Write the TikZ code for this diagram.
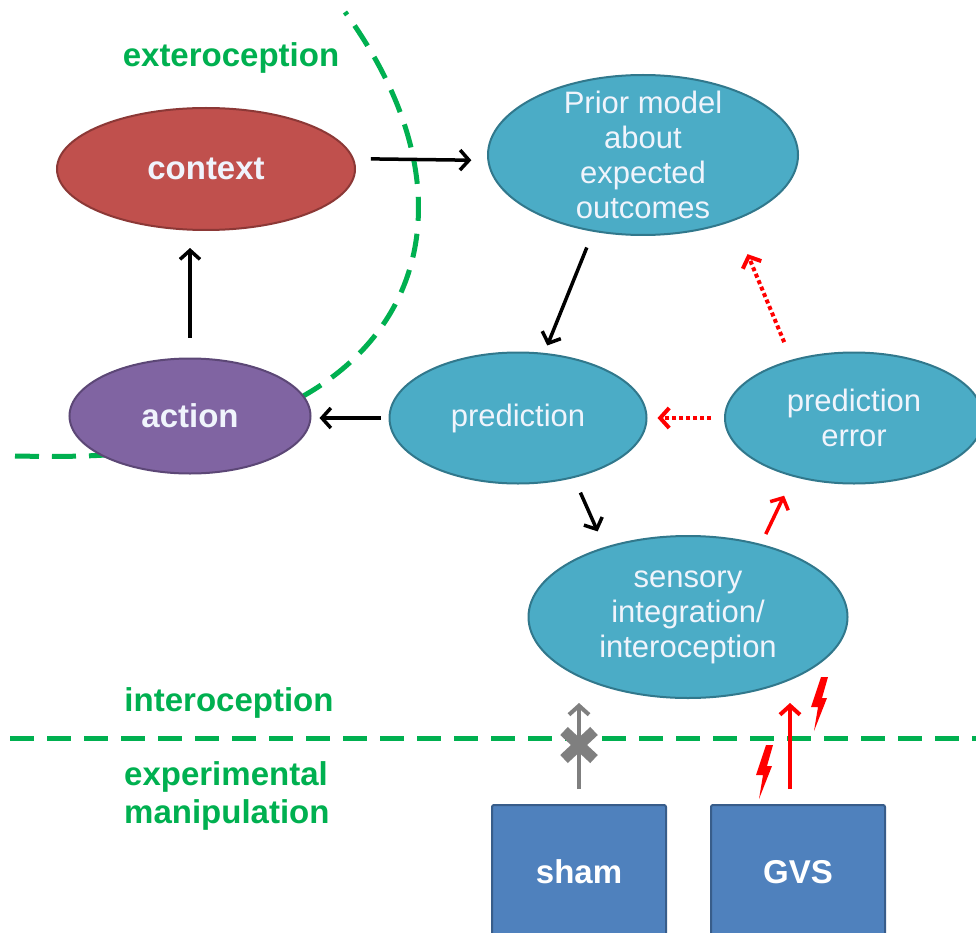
\documentclass[tikz,border=0pt]{standalone}
\usepackage{fontspec}
\setmainfont{Liberation Sans}
\usetikzlibrary{arrows.meta}
\usetikzlibrary{shapes.geometric}

\definecolor{tealfill}{RGB}{75,172,198}
\definecolor{tealedge}{RGB}{49,120,140}
\definecolor{ctxfill}{RGB}{192,80,77}
\definecolor{ctxedge}{RGB}{140,56,54}
\definecolor{actfill}{RGB}{128,100,162}
\definecolor{actedge}{RGB}{92,71,118}
\definecolor{boxfill}{RGB}{79,129,189}
\definecolor{boxedge}{RGB}{56,93,138}
\definecolor{zonegreen}{RGB}{0,176,80}
\definecolor{paletext}{RGB}{240,244,252}
\definecolor{midgray}{RGB}{127,127,127}

\begin{document}
\begin{tikzpicture}[x=1pt, y=-1pt]
    \tikzstyle{blob} = [ellipse, draw=tealedge, fill=tealfill, line width=2pt, inner sep=0pt, align=center, text=paletext, font=\fontsize{31}{35}\selectfont];
    \tikzstyle{keyblob} = [blob, font=\fontsize{33}{38}\selectfont\bfseries];
    \tikzstyle{block} = [rectangle, draw=boxedge, fill=boxfill, line width=2pt, rounded corners=2pt, minimum width=174pt, minimum height=134pt, text=white, font=\fontsize{33}{38}\selectfont\bfseries];
    \tikzstyle{zone} = [text=zonegreen, align=left, inner sep=0pt, font=\fontsize{33}{38}\selectfont\bfseries];
    \tikzstyle{border} = [draw=zonegreen, line width=5pt, dash pattern=on 24pt off 13pt];
    \tikzstyle{line} = [draw, line width=3.5pt, -{Straight Barb[length=9pt, width=20pt]}];
    \tikzstyle{error} = [line, draw=red, line width=4pt, dash pattern=on 4pt off 3pt];

    \useasboundingbox (0,0) rectangle (976,933);
    \fill[white] (0,0) rectangle (976,933);

    % outside world boundary, runs behind the action node
    \path[border] (15,456) .. controls (120,458) and (205,455) .. (305,395)
                          .. controls (435,320) and (460,170) .. (345,12);
    \path[border] (10,738) -- (976,738);

    \node[zone] (extero) at (231,58) {exteroception};
    \node[zone] (intero) at (229,703) {interoception};
    \node[zone, anchor=west] (manip) at (124,796) {experimental\\manipulation};

    \node[keyblob, draw=ctxedge, fill=ctxfill, minimum width=298pt, minimum height=122pt] (context) at (206,169) {context};
    \node[keyblob, draw=actedge, fill=actfill, minimum width=241pt, minimum height=115pt] (action) at (190,416) {action};
    \node[blob, minimum width=310pt, minimum height=160pt, inner ysep=-16pt] (prior) at (643,155) {Prior model\\about\\expected\\outcomes};
    \node[blob, minimum width=257pt, minimum height=131pt] (pred) at (518,418) {prediction};
    \node[blob, minimum width=258pt, minimum height=131pt] (perror) at (854,418) {prediction\\error};
    \node[blob, minimum width=319pt, minimum height=162pt] (sensory) at (688,617) {sensory\\integration/\\interoception};

    \node[block] (sham) at (579,872) {sham};
    \node[block] (gvs) at (798,872) {GVS};

    \path[line, shorten <=17pt, shorten >=16pt] (context.4) -- (prior.182);
    \path[line, shorten <=20pt, shorten >=17pt] (action.north) -- (action.north |- context.south);
    \path[line, shorten <=8pt, shorten >=8pt] (pred.west) -- (pred.west -| action.east);
    \path[line, shorten <=17pt, shorten >=8pt] (prior.237) -- (pred.68);
    \path[line, shorten <=16pt, shorten >=17pt] (pred.313) -- (sensory.140);
    \path[line, draw=red, shorten <=11pt, shorten >=21pt] (sensory.45) -- (perror.224);
    \path[error, shorten <=19pt, shorten >=36pt] (perror.137) -- (prior.324);
    \path[error, shorten <=13pt, shorten >=10pt] (perror.west) -- (pred.east);

    \coordinate (shamin) at (579,703);
    \coordinate (gvsin) at (790,703);
    \coordinate (cut) at (579,745);
    \path[line, draw=midgray, line width=4pt, shorten <=15pt] (sham.north) -- (shamin);
    \path[line, draw=red, line width=4pt, shorten <=15pt] ([xshift=-8pt]gvs.north) -- (gvsin);
    \draw[midgray, line width=11pt] ([shift={(-15,-14)}]cut) -- ([shift={(15,14)}]cut)
                                    ([shift={(-15,14)}]cut) -- ([shift={(15,-14)}]cut);

    \foreach \spot in {(763,772), (818,704)}
        \fill[red, shift={\spot}] (3,-27) -- (10,-27) -- (4,-6) -- (9,-6) -- (-4,27) -- (0,3) -- (-7,3) -- cycle;
\end{tikzpicture}
\end{document}
